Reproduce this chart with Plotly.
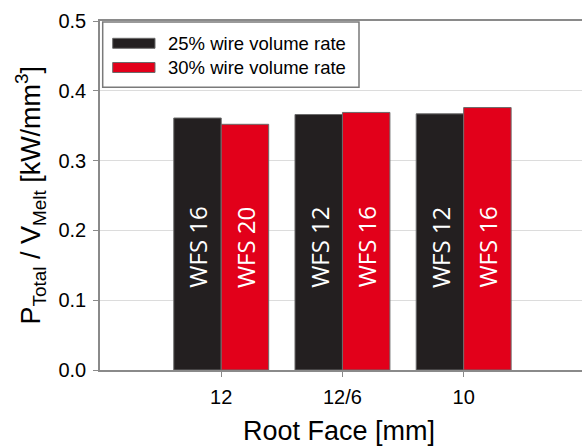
import plotly.graph_objects as go

# Data
root_faces = ["12", "12/6", "10"]
series_names = ["25% wire volume rate", "30% wire volume rate"]
values_25 = [0.361, 0.366, 0.367]
values_30 = [0.352, 0.369, 0.376]
labels_25 = ["WFS 16", "WFS 12", "WFS 12"]
labels_30 = ["WFS 20", "WFS 16", "WFS 16"]
y_ticks = [0.0, 0.1, 0.2, 0.3, 0.4, 0.5]

BLACK = "#231f20"
RED = "#e2001a"
OUTLINE = "#6b6b6b"
FONT = "Arial, Liberation Sans, sans-serif"
BARGAP = 0.217

W, H = 582, 446
M_L, M_R, M_T, M_B = 100, 0, 21, 76
PW, PH = W - M_L - M_R, H - M_T - M_B


def px_to_paper(px, py):
    return (px - M_L) / PW, (H - M_B - py) / PH


fig = go.Figure()
fig.add_trace(go.Bar(x=root_faces, y=values_25, name=series_names[0],
                     marker=dict(color=BLACK, line=dict(color=OUTLINE, width=1))))
fig.add_trace(go.Bar(x=root_faces, y=values_30, name=series_names[1],
                     marker=dict(color=RED, line=dict(color=OUTLINE, width=1))))

# rotated wire-feed-speed labels inside the bars
half = (1 - BARGAP) / 4
annotations = []
for i in range(len(root_faces)):
    for off, txt in ((-half, labels_25[i]), (half, labels_30[i])):
        annotations.append(dict(x=i + off, y=0.176, xref="x", yref="y", text=txt,
                                textangle=-90, showarrow=False,
                                font=dict(family="Open Sans", size=24, color="white"),
                                xanchor="center", yanchor="middle"))

# axis titles
annotations.append(dict(x=(339 - M_L) / PW, y=px_to_paper(0, 431)[1], xref="paper", yref="paper",
                        text="Root Face [mm]", showarrow=False,
                        font=dict(family=FONT, size=27, color="black"),
                        xanchor="center", yanchor="middle"))
annotations.append(dict(x=px_to_paper(30, 0)[0], y=0.5, xref="paper", yref="paper",
                        text="P<sub>Total</sub> / V<sub>Melt</sub> [kW/mm<sup>3</sup>]",
                        textangle=-90, showarrow=False,
                        font=dict(family=FONT, size=27, color="black"),
                        xanchor="center", yanchor="middle"))

# legend box
shapes = []
x0, y0 = px_to_paper(102.7, 22)
x1, y1 = px_to_paper(359, 87.3)
shapes.append(dict(type="rect", xref="paper", yref="paper", x0=x0, y0=y1, x1=x1, y1=y0,
                   line=dict(color="#7a7a7a", width=1.5), fillcolor="white", layer="above"))
for name, color, cy in ((series_names[0], BLACK, 43.3), (series_names[1], RED, 67.5)):
    sx0, sy0 = px_to_paper(112.7, cy - 5)
    sx1, sy1 = px_to_paper(155, cy + 5)
    shapes.append(dict(type="rect", xref="paper", yref="paper", x0=sx0, y0=sy1, x1=sx1, y1=sy0,
                       line=dict(color=OUTLINE, width=1), fillcolor=color, layer="above"))
    tx, ty = px_to_paper(166, cy)
    annotations.append(dict(x=tx, y=ty, xref="paper", yref="paper", text=name,
                            showarrow=False, font=dict(family=FONT, size=18.5, color="black"),
                            xanchor="left", yanchor="middle"))

fig.update_layout(
    width=W, height=H,
    margin=dict(l=M_L, r=M_R, t=M_T, b=M_B, pad=0),
    paper_bgcolor="white", plot_bgcolor="white",
    barmode="group", bargap=BARGAP, bargroupgap=0,
    showlegend=False,
    annotations=annotations, shapes=shapes,
    font=dict(family=FONT, color="black"),
)
fig.update_xaxes(
    type="category", range=[-1, (W - M_R - 221) / 121.3],
    showline=True, linecolor="#8a8a8a", linewidth=1.5, mirror=True,
    ticks="outside", ticklen=5, tickcolor="#8a8a8a", tickwidth=1,
    tickfont=dict(family=FONT, size=20, color="black"),
    showgrid=False, ticklabelstandoff=3,
)
fig.update_yaxes(
    range=[0, 0.5], tickvals=y_ticks, tickformat=".1f",
    showline=True, linecolor="#8a8a8a", linewidth=1.5,
    ticks="outside", ticklen=5, tickcolor="#8a8a8a", tickwidth=1,
    tickfont=dict(family=FONT, size=20, color="black"),
    showgrid=True, gridcolor="#dcdcdc", gridwidth=1,
    zeroline=False, ticklabelstandoff=3,
)

fig.write_html("out.html")
